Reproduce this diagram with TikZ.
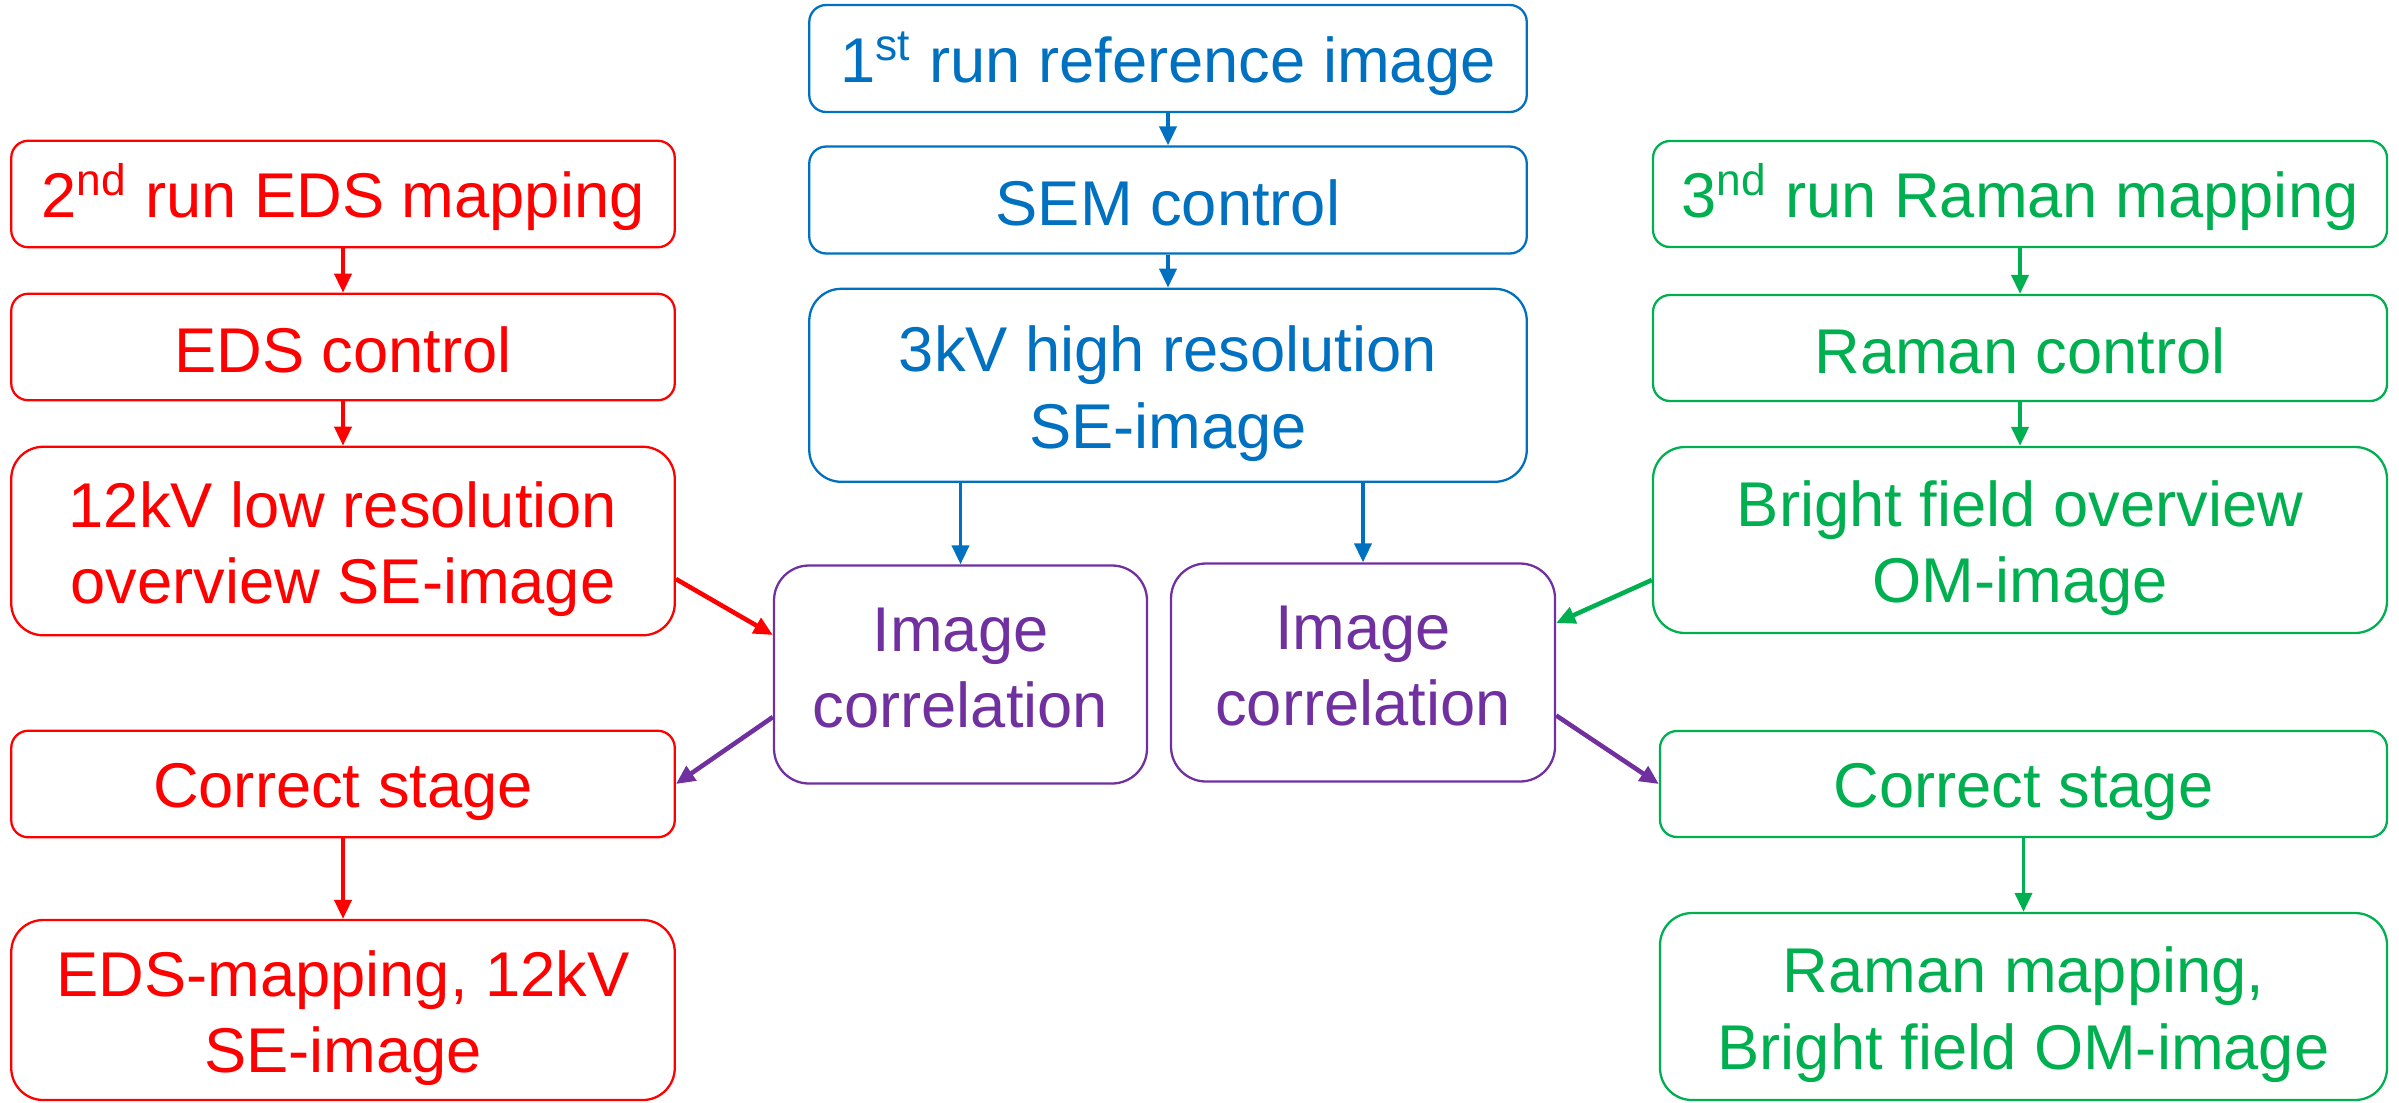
\documentclass[tikz,border=0pt]{standalone}
\usepackage{fontspec}
\setmainfont{Liberation Sans}
\usetikzlibrary{arrows.meta, positioning}
\definecolor{edsred}{RGB}{255, 0, 0}
\definecolor{semblue}{RGB}{0, 112, 192}
\definecolor{ramangreen}{RGB}{0, 176, 80}
\definecolor{corrpurple}{RGB}{112, 48, 160}

% line strut with the ascent/descent of the sans font
\newcommand{\boxstrut}{\rule[-0.16em]{0pt}{1.12em}}
% taller first line, keeps two-line texts low in their boxes
\newcommand{\topline}{\rule{0pt}{0.98em}}

\tikzset{
    stepbox/.style={draw, rounded corners=1.7mm, line width=0.65pt, align=center, inner sep=0pt,
        font=\fontsize{18}{21.8}\selectfont,
        execute at begin node=\boxstrut, execute at end node=\boxstrut},
    tallbox/.style={rounded corners=3.2mm},
    edsbox/.style={stepbox, edsred, minimum width=6.635cm},
    sembox/.style={stepbox, semblue, minimum width=7.175cm},
    ramanbox/.style={stepbox, ramangreen, minimum width=7.34cm},
    corrbox/.style={stepbox, corrpurple, rounded corners=3.5mm, minimum height=2.18cm,
        execute at end node=\rule[-0.22em]{0pt}{0pt}},
    flow/.style={-{Triangle[length=1.9mm, width=1.7mm]}, line width=1.1pt},
    cross/.style={flow, line width=1.3pt},
}

\begin{document}
\begin{tikzpicture}
    \useasboundingbox (0,0) rectangle (23.99,-11.02);

    % 1st run: SEM reference
    \node[sembox, minimum height=1.07cm] (ref) at (11.68,-0.585) {1\textsuperscript{st} run reference image};
    \node[sembox, minimum height=1.07cm] (sem) at (11.68,-2.00) {SEM control};
    \node[sembox, tallbox, minimum height=1.93cm] (hires) at (11.68,-3.853) {\topline 3kV high resolution\\SE-image};

    % Correlation steps
    \node[corrbox, minimum width=3.73cm] (corrL) at (9.605,-6.745) {Image\\correlation};
    \node[corrbox, minimum width=3.84cm] (corrR) at (13.63,-6.725) {Image\\correlation};

    % 2nd run: EDS
    \node[edsbox, minimum height=1.065cm] (run2) at (3.43,-1.94) {2\textsuperscript{nd} run EDS mapping};
    \node[edsbox, minimum height=1.065cm] (edsctl) at (3.43,-3.47) {EDS control};
    \node[edsbox, tallbox, minimum height=1.885cm] (lowres) at (3.43,-5.41) {\topline 12kV low resolution\\overview SE-image};
    \node[edsbox, minimum height=1.065cm] (stageL) at (3.43,-7.84) {Correct stage};
    \node[edsbox, tallbox, minimum height=1.80cm] (edsmap) at (3.43,-10.10) {\topline EDS-mapping, 12kV\\SE-image};

    % 3rd run: Raman
    \node[ramanbox, minimum height=1.06cm] (run3) at (20.20,-1.94) {3\textsuperscript{nd} run Raman mapping};
    \node[ramanbox, minimum height=1.06cm] (ramctl) at (20.20,-3.48) {Raman control};
    \node[ramanbox, tallbox, minimum height=1.86cm] (bright) at (20.20,-5.40) {\topline Bright field overview\\OM-image};
    \node[ramanbox, minimum width=7.27cm, minimum height=1.06cm] (stageR) at (20.235,-7.84) {Correct stage};
    \node[ramanbox, tallbox, minimum width=7.27cm, minimum height=1.87cm] (ramanmap) at (20.235,-10.065) {\topline Raman mapping,\\Bright field OM-image};

    % Arrows
    \draw[flow, semblue] (ref) -- (sem);
    \draw[flow, semblue] (sem) -- (hires);
    \draw[flow, semblue] (hires.south -| corrL.north) -- (corrL.north);
    \draw[flow, semblue] (hires.south -| corrR.north) -- (corrR.north);

    \draw[flow, edsred] (run2) -- (edsctl);
    \draw[flow, edsred] (edsctl) -- (lowres);
    \draw[cross, edsred] ([yshift=-3.8mm]lowres.east) -- ([yshift=3.95mm]corrL.west);
    \draw[cross, corrpurple] ([yshift=-4.25mm]corrL.west) -- (stageL.east);
    \draw[flow, edsred] (stageL) -- (edsmap);

    \draw[flow, ramangreen] (run3) -- (ramctl);
    \draw[flow, ramangreen] (ramctl) -- (bright);
    \draw[cross, ramangreen] ([yshift=-4mm]bright.west) -- ([yshift=4.95mm]corrR.east);
    \draw[cross, corrpurple] ([yshift=-4.3mm]corrR.east) -- (stageR.west);
    \draw[flow, ramangreen] (stageR) -- (ramanmap);
\end{tikzpicture}
\end{document}
